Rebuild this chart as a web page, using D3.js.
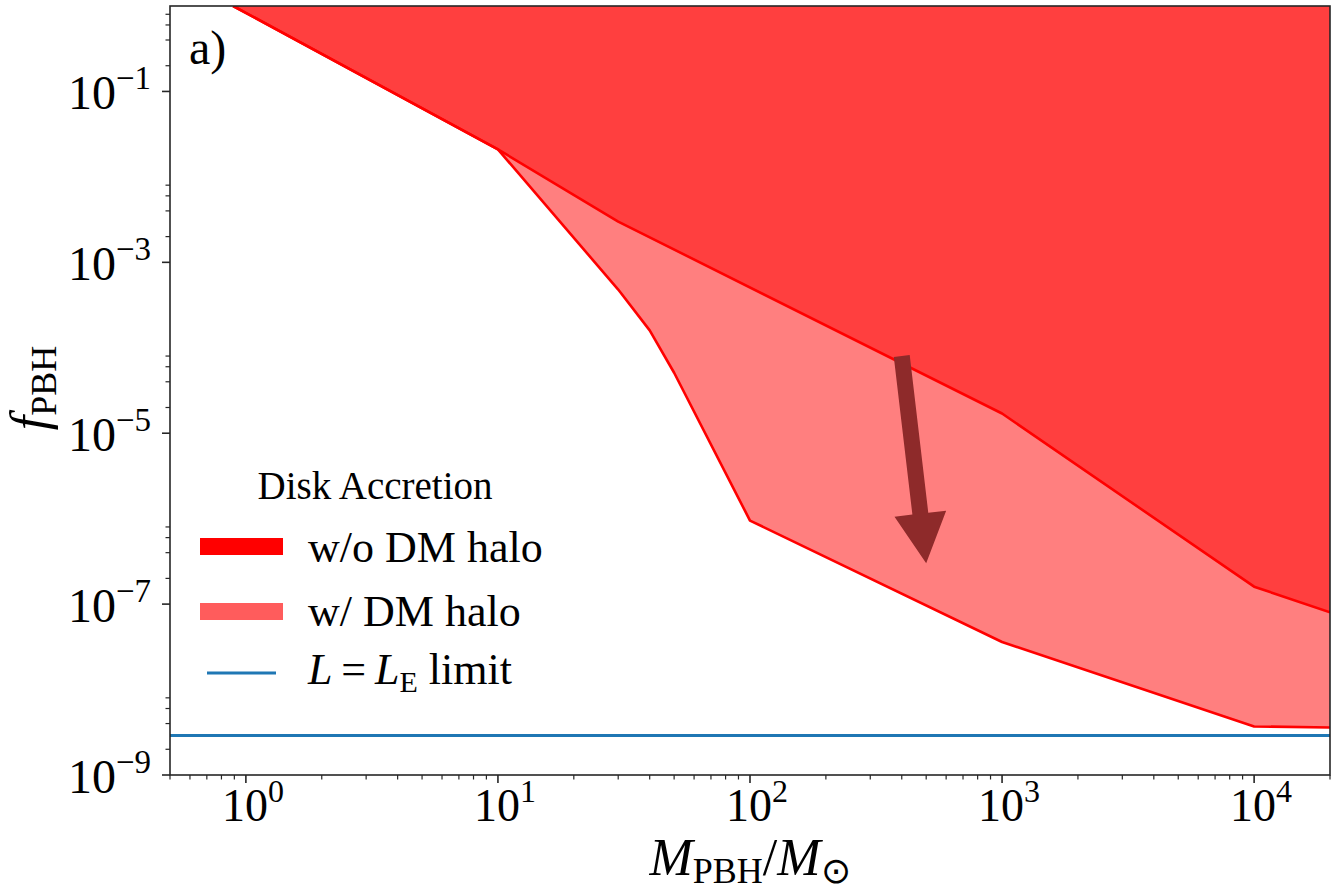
<!DOCTYPE html>
<html>
<head>
<meta charset="utf-8">
<script src="https://cdn.jsdelivr.net/npm/d3@7"></script>
<style>
  html, body { margin: 0; padding: 0; background: #fff; }
  svg { display: block; }
</style>
</head>
<body>
<svg id="chart" width="1331" height="890"></svg>
<script>
// PBH mass (solar masses) and abundance bounds from disk accretion
const massNoHalo = [0.89, 10, 30, 1000, 10000, 20000];
const fNoHalo    = [1.0, 2.1e-2, 3.0e-3, 1.7e-5, 1.6e-7, 8.0e-8];

const massHalo = [0.89, 10, 30, 40, 50, 100, 1000, 10000, 20000];
const fHalo    = [1.0, 2.1e-2, 4.8e-4, 1.6e-4, 5.1e-5, 9.5e-7, 3.6e-8, 3.7e-9, 3.6e-9];

// Eddington-luminosity limit (horizontal line)
const fEddington = 2.9e-9;

// Arrow from the no-halo bound towards the halo bound: [mass, f]
const arrowFrom = [400, 8.0e-5];
const arrowTo   = [500, 3.0e-7];

const xTickExponents = [0, 1, 2, 3, 4];
const yTickExponents = [-1, -3, -5, -7, -9];

const legendTitle = "Disk Accretion";
const legendLabels = ["w/o DM halo", "w/ DM halo"];

// ---------------------------------------------------------------
const FONT = "Liberation Serif";
const svg = d3.select("#chart");
const plotLeft = 170, plotRight = 1330, plotTop = 6, plotBottom = 775;

const x = d3.scaleLog().domain([0.5, 2e4]).range([plotLeft, plotRight]);
const y = d3.scaleLog().domain([1e-9, 1]).range([plotBottom, plotTop]);

svg.append("defs").append("clipPath").attr("id", "plotClip")
  .append("rect").attr("x", plotLeft).attr("y", plotTop)
  .attr("width", plotRight - plotLeft).attr("height", plotBottom - plotTop);

const plot = svg.append("g").attr("clip-path", "url(#plotClip)");

const toPoints = (ms, fs) => ms.map((m, i) => [m, fs[i]]);
const noHalo = toPoints(massNoHalo, fNoHalo);
const halo = toPoints(massHalo, fHalo);

// Excluded regions: filled from the bound up to f = 1
const area = d3.area()
  .x(d => x(d[0]))
  .y0(() => y(1))
  .y1(d => y(d[1]));
const line = d3.line().x(d => x(d[0])).y(d => y(d[1]));

plot.append("path").datum(halo)
  .attr("d", area).attr("fill", "#ff0000").attr("fill-opacity", 0.5);
plot.append("path").datum(noHalo)
  .attr("d", area).attr("fill", "#ff0000").attr("fill-opacity", 0.5);

plot.append("path").datum(halo)
  .attr("d", line).attr("fill", "none").attr("stroke", "#ff0000")
  .attr("stroke-width", 2.6).attr("stroke-linejoin", "round");
plot.append("path").datum(noHalo)
  .attr("d", line).attr("fill", "none").attr("stroke", "#ff0000")
  .attr("stroke-width", 2.6).attr("stroke-linejoin", "round");

// Eddington limit
plot.append("line")
  .attr("x1", plotLeft).attr("x2", plotRight)
  .attr("y1", y(fEddington)).attr("y2", y(fEddington))
  .attr("stroke", "#1f77b4").attr("stroke-width", 3);

// Arrow
(function drawArrow() {
  const x0 = x(arrowFrom[0]), y0 = y(arrowFrom[1]);
  const x1 = x(arrowTo[0]), y1 = y(arrowTo[1]);
  const dx = x1 - x0, dy = y1 - y0;
  const len = Math.hypot(dx, dy);
  const ux = dx / len, uy = dy / len;
  const px = -uy, py = ux;
  const shaft = 8, head = 26, headLen = 50;
  const bx = x1 - ux * headLen, by = y1 - uy * headLen;
  const pts = [
    [x0 + px * shaft, y0 + py * shaft],
    [bx + px * shaft, by + py * shaft],
    [bx + px * head, by + py * head],
    [x1, y1],
    [bx - px * head, by - py * head],
    [bx - px * shaft, by - py * shaft],
    [x0 - px * shaft, y0 - py * shaft]
  ];
  plot.append("polygon")
    .attr("points", pts.map(p => p.join(",")).join(" "))
    .attr("fill", "#8e2a2a");
})();

// ---------------------------------------------------------------
// Axes frame
const axisColor = "#262626";
svg.append("rect")
  .attr("x", plotLeft).attr("y", plotTop)
  .attr("width", plotRight - plotLeft).attr("height", plotBottom - plotTop)
  .attr("fill", "none").attr("stroke", axisColor).attr("stroke-width", 1.6);

// X ticks
const xMajor = xTickExponents.map(e => Math.pow(10, e));
const xMinor = [];
for (let e = -1; e <= 4; e++) {
  for (let k = 2; k <= 9; k++) {
    const v = k * Math.pow(10, e);
    if (v >= 0.5 && v <= 2e4) xMinor.push(v);
  }
}
const axes = svg.append("g").attr("stroke", axisColor);
xMajor.forEach(v => axes.append("line")
  .attr("x1", x(v)).attr("x2", x(v)).attr("y1", plotBottom).attr("y2", plotBottom + 8)
  .attr("stroke-width", 1.6));
xMinor.forEach(v => axes.append("line")
  .attr("x1", x(v)).attr("x2", x(v)).attr("y1", plotBottom).attr("y2", plotBottom + 4.5)
  .attr("stroke-width", 1.2));

// Y ticks: labelled every other decade, minor subdivisions in those decades
const yMajor = yTickExponents.map(e => Math.pow(10, e));
const yMinor = [];
yTickExponents.forEach(e => {
  [2, 4, 6, 8].forEach(k => {
    const v = k * Math.pow(10, e);
    if (v <= 1) yMinor.push(v);
  });
});
yMajor.forEach(v => axes.append("line")
  .attr("x1", plotLeft - 8).attr("x2", plotLeft).attr("y1", y(v)).attr("y2", y(v))
  .attr("stroke-width", 1.6));
yMinor.forEach(v => axes.append("line")
  .attr("x1", plotLeft - 4.5).attr("x2", plotLeft).attr("y1", y(v)).attr("y2", y(v))
  .attr("stroke-width", 1.2));

function txt(g, xPos, yPos, size) {
  return g.append("text").attr("x", xPos).attr("y", yPos)
    .attr("font-family", FONT).attr("font-size", size).attr("fill", "#000");
}

// Tick labels as 10^k
function powerLabel(g, exp, ax, ay, anchor, size) {
  const t = txt(g, ax, ay, size).attr("text-anchor", anchor);
  t.append("tspan").text("10");
  t.append("tspan").attr("dy", -Math.round(size * 0.42)).attr("font-size", Math.round(size * 0.69))
    .text(exp < 0 ? "\u2212" + Math.abs(exp) : String(exp));
}
const labels = svg.append("g");
xTickExponents.forEach(e => powerLabel(labels, e, x(Math.pow(10, e)) + 7, 821, "middle", 46));
yTickExponents.forEach(e => powerLabel(labels, e, 151, y(Math.pow(10, e)) + 18, "end", 48));

// Axis titles
const xt = txt(svg, 750, 875, 52).attr("text-anchor", "middle");
xt.append("tspan").attr("font-style", "italic").text("M");
xt.append("tspan").attr("dy", 8).attr("font-size", 36).text("PBH");
xt.append("tspan").attr("dy", -8).text("/");
xt.append("tspan").attr("font-style", "italic").text("M");
xt.append("tspan").attr("dy", 8).attr("font-size", 36).text("\u2299");

const yt = svg.append("text")
  .attr("transform", "translate(47,388) rotate(-90)")
  .attr("font-family", FONT).attr("font-size", 52)
  .attr("text-anchor", "middle");
yt.append("tspan").attr("font-style", "italic").text("f");
yt.append("tspan").attr("dy", 9).attr("font-size", 36).text("PBH");

// Panel tag
txt(svg, 189, 64, 48).text("a)");

// ---------------------------------------------------------------
// Legend
const legend = svg.append("g");
txt(legend, 375, 499, 39).attr("text-anchor", "middle").text(legendTitle);

legend.append("rect").attr("x", 200).attr("y", 538).attr("width", 83).attr("height", 17)
  .attr("fill", "#ff0000");
txt(legend, 308, 562, 44).text(legendLabels[0]);

legend.append("rect").attr("x", 200).attr("y", 603).attr("width", 83).attr("height", 17)
  .attr("fill", "#ff5c5c");
txt(legend, 308, 626, 44).text(legendLabels[1]);

legend.append("line").attr("x1", 207).attr("x2", 276).attr("y1", 673).attr("y2", 673)
  .attr("stroke", "#1f77b4").attr("stroke-width", 3);
const lt = txt(legend, 308, 684, 44);
lt.append("tspan").attr("font-style", "italic").text("L");
lt.append("tspan").text("\u2009=\u2009");
lt.append("tspan").attr("font-style", "italic").text("L");
lt.append("tspan").attr("dy", 8).attr("font-size", 30).text("E");
lt.append("tspan").attr("dy", -8).text(" limit");
</script>
</body>
</html>
